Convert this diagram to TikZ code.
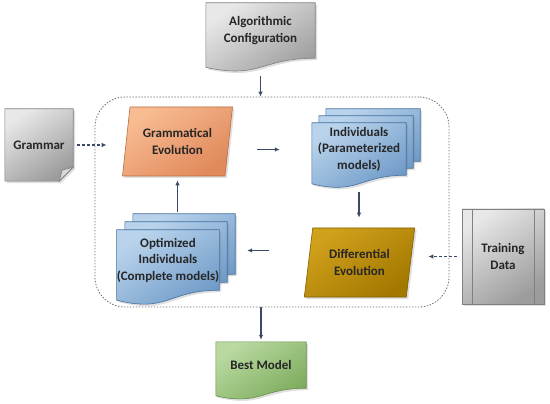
\documentclass[tikz,border=0pt]{standalone}
\usepackage{fontspec}
\setmainfont{Carlito}
\usetikzlibrary{calc,shapes.geometric,shadows,backgrounds,arrows.meta}

\definecolor{arrowc}{HTML}{3B4A66}
\definecolor{loopc}{HTML}{707070}
\definecolor{grayhi}{HTML}{E8E8E8}
\definecolor{graylo}{HTML}{9C9C9C}
\definecolor{graybd}{HTML}{808080}
\definecolor{orangehi}{HTML}{F8BC93}
\definecolor{orangelo}{HTML}{E0895A}
\definecolor{orangebd}{HTML}{B96C3D}
\definecolor{bluehi}{HTML}{B9D3EC}
\definecolor{bluelo}{HTML}{6C98C6}
\definecolor{bluebd}{HTML}{44709D}
\definecolor{goldhi}{HTML}{D2A11C}
\definecolor{goldlo}{HTML}{A27800}
\definecolor{goldbd}{HTML}{7F5F00}
\definecolor{greenhi}{HTML}{B9D9A0}
\definecolor{greenlo}{HTML}{7BAA5A}
\definecolor{greenbd}{HTML}{668F4A}

% wavy bottom of a document, drawn round a node's box
\newcommand{\docpath}[1]{(#1.north west) -- (#1.north east) -- (#1.south east)
  .. controls (#1.south) and ($(#1.north)!1.38!(#1.south)$) .. ($(#1.north west)!1.165!(#1.south west)$) -- cycle}

\tikzset{
  txt/.style={align=center, inner sep=0pt, text=black!85,
    font=\bfseries\fontsize{13}{16.5}\selectfont},
  shadowed/.style={drop shadow={shadow xshift=2pt, shadow yshift=-2pt, opacity=0.25}},
  shape base/.style={line width=0.6pt, shadowed, shading angle=35},
  grayshape/.style={draw=graybd, top color=grayhi, bottom color=graylo, shape base},
  orangeshape/.style={draw=orangebd, top color=orangehi, bottom color=orangelo, shape base},
  blueshape/.style={draw=bluebd, top color=bluehi, bottom color=bluelo, shape base},
  goldshape/.style={draw=goldbd, top color=goldhi, bottom color=goldlo, shape base},
  greenshape/.style={draw=greenbd, top color=greenhi, bottom color=greenlo, shape base},
  para/.style={txt, trapezium, trapezium left angle=78, trapezium right angle=102,
    trapezium stretches=true, minimum width=111pt, minimum height=69pt},
  flow/.style={draw=arrowc, line width=1.1pt, -{Latex[length=5pt,width=4.5pt]}},
  feed/.style={flow, dash pattern=on 3pt off 2pt},
}

\begin{document}
\begin{tikzpicture}[x=1pt, y=-1pt]
  \useasboundingbox (0,0) rectangle (550,404);

  \node[draw=loopc, line width=0.8pt, dash pattern=on 1.5pt off 1.5pt, rounded corners=30pt,
    minimum width=354pt, minimum height=210pt] (loop) at (272,202) {};

  % text boxes of the documents
  \node[txt, minimum width=109pt, minimum height=55pt] (algo) at (260.5,30.5) {Algorithmic\\Configuration};
  \node[txt, minimum width=68pt, minimum height=72pt] (grammar) at (39,145) {Grammar};
  \node[minimum width=94pt, minimum height=52pt] (indc) at (373,135) {};
  \node[minimum width=94pt, minimum height=52pt] (indb) at (366,142) {};
  \node[txt, minimum width=94pt, minimum height=52pt] (ind) at (359,149) {Individuals\\(Parameterized\\models)};
  \node[minimum width=102pt, minimum height=60pt] (optc) at (184,244) {};
  \node[minimum width=102pt, minimum height=60pt] (optb) at (176,252) {};
  \node[txt, minimum width=102pt, minimum height=60pt] (opt) at (168,260) {Optimized\\Individuals\\(Complete models)};
  \node[txt, minimum width=90pt, minimum height=46pt] (best) at (261,365) {Best Model};

  \node[para, orangeshape] (ge) at (177.5,141.5) {Grammatical\\Evolution};
  \node[para, goldshape] (de) at (359.5,262.5) {Differential\\Evolution};

  \node[txt, grayshape, minimum width=82pt, minimum height=95pt] (train) at (503,256.5) {Training\\Data};
  \draw[draw=graybd, line width=0.6pt] ([xshift=10.5pt]train.north west) -- ([xshift=10.5pt]train.south west)
    ([xshift=-10.5pt]train.north east) -- ([xshift=-10.5pt]train.south east);

  \begin{scope}[on background layer]
    \draw[grayshape] \docpath{algo};
    \draw[grayshape] (grammar.north west) -- (grammar.north east) -- ([yshift=14pt]grammar.south east)
      -- ([xshift=-14pt]grammar.south east) -- (grammar.south west) -- cycle;
    \draw[draw=graybd, line width=0.6pt, fill=black!15] ([yshift=14pt]grammar.south east)
      -- ([xshift=-14pt]grammar.south east) -- ([xshift=-11pt,yshift=11pt]grammar.south east) -- cycle;
    \draw[blueshape] \docpath{indc};
    \draw[blueshape] \docpath{indb};
    \draw[blueshape] \docpath{ind};
    \draw[blueshape] \docpath{optc};
    \draw[blueshape] \docpath{optb};
    \draw[blueshape] \docpath{opt};
    \draw[greenshape] \docpath{best};
  \end{scope}

  \draw[flow] ([yshift=-18pt]algo.south) -- (algo.south |- loop.north);
  \draw[feed] ([xshift=4pt]grammar.east) -- ([xshift=12pt]grammar.east -| loop.west);
  \draw[flow, shorten <=28pt, shorten >=32pt] ([yshift=-8pt]ge.east) -- ([yshift=-8pt]ge.east -| ind.west);
  \draw[flow, shorten >=10pt] ([yshift=-17pt]ind.south) -- (ind.south |- de.north);
  \draw[flow, shorten <=39pt, shorten >=12pt] ([yshift=12pt]de.west) -- ([yshift=12pt]de.west -| optc.east);
  \draw[flow, shorten <=2pt, shorten >=4pt] (ge.south |- optc.north) -- (ge.south);
  \draw[feed] ([xshift=-5pt]train.west) -- ([xshift=-21pt]train.west -| loop.east);
  \draw[flow, shorten >=2pt] (loop.south -| best.north) -- (best.north);
\end{tikzpicture}
\end{document}
